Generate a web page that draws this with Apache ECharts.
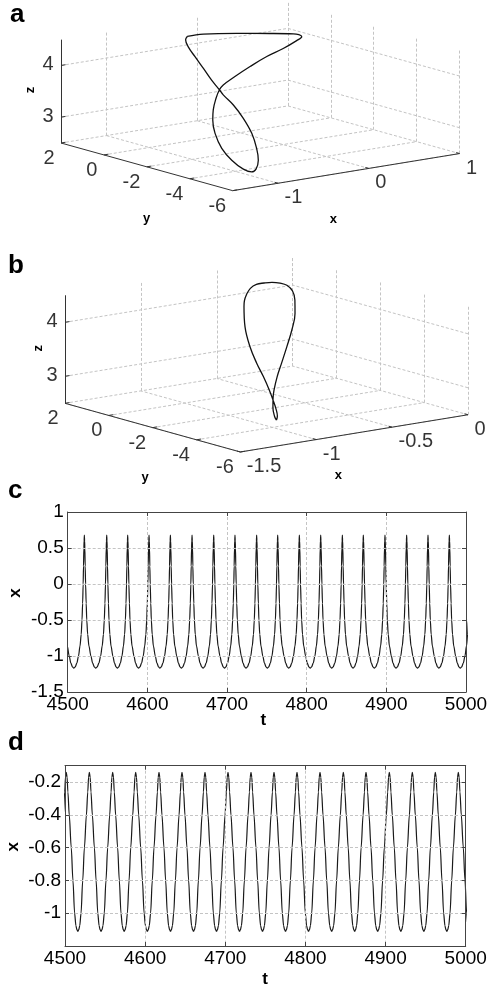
<!DOCTYPE html>
<html>
<head>
<meta charset="utf-8">
<script src="https://cdn.jsdelivr.net/npm/echarts@6/dist/echarts.min.js"></script>
<style>
  html, body { margin: 0; padding: 0; background: #fff; }
  #chart { width: 491px; height: 988px; }
</style>
</head>
<body>
<div id="chart"></div>
<script>
const aX = [-0.30, 0.00, 0.35, 0.58, 0.67, 0.68, 0.60, 0.40, 0.15, -0.10, -0.30, -0.45, -0.55, -0.65, -0.78, -0.88, -0.98, -1.06, -1.12, -1.16, -1.17, -1.16, -1.13, -1.08, -1.02, -0.95, -0.88, -0.80, -0.75, -0.68, -0.60, -0.52, -0.45, -0.38];
const aY = [1.19, 1.71, 1.64, 1.06, 0.35, 0.00, -0.10, -0.32, -0.61, -0.89, -1.03, -1.12, -1.36, -1.63, -2.05, -2.45, -2.98, -3.63, -4.35, -5.06, -5.49, -5.65, -5.63, -5.34, -4.86, -4.17, -3.41, -2.60, -2.21, -1.55, -0.83, -0.10, 0.51, 0.93];
const aZ = [4.31, 4.21, 4.13, 4.13, 4.18, 4.16, 4.12, 4.05, 4.00, 3.91, 3.79, 3.68, 3.64, 3.54, 3.40, 3.28, 3.11, 2.92, 2.79, 2.71, 2.71, 2.78, 2.94, 3.12, 3.34, 3.53, 3.68, 3.76, 3.80, 3.89, 4.01, 4.13, 4.23, 4.30];

// panel b: closed orbit (x, y, z)
const bX = [-1.10, -1.09, -1.06, -1.01, -0.95, -0.85, -0.72, -0.56, -0.38, -0.22, -0.14, -0.17, -0.22, -0.28, -0.35, -0.41, -0.47, -0.53, -0.59, -0.63, -0.65, -0.75, -0.84, -0.92, -0.98, -1.03, -1.07, -1.09, -1.10];
const bY = [-4.88, -4.72, -4.44, -4.10, -3.73, -3.18, -2.48, -1.61, -0.59, 0.37, 0.93, 0.83, 0.74, 0.64, 0.52, 0.47, 0.40, 0.26, 0.02, -0.16, -0.28, -1.02, -1.87, -2.73, -3.45, -4.07, -4.51, -4.79, -4.92];
const bZ = [2.78, 2.83, 2.94, 3.06, 3.14, 3.28, 3.39, 3.52, 3.63, 3.76, 3.91, 4.10, 4.24, 4.32, 4.38, 4.40, 4.41, 4.38, 4.32, 4.24, 4.16, 3.91, 3.68, 3.51, 3.37, 3.21, 3.10, 2.97, 2.86];

// 3D tick values
const aXTicks = [-1, 0, 1];
const bXTicks = [-1.5, -1, -0.5, 0];
const yTicks3d = [2, 0, -2, -4, -6];
const zTicks3d = [3, 4];

// panel c: peak times and the shape of one cycle (time after peak, x)
const cPeaks = [4494.0, 4520.9, 4549.0, 4575.3, 4602.1, 4628.9, 4656.1, 4683.3, 4710.0, 4737.2, 4763.6, 4790.8, 4817.6, 4844.8, 4871.1, 4898.3, 4925.5, 4952.3, 4979.1];
const cCycleT = [0, 0.3, 0.6, 1.0, 1.5, 2.2, 2.9, 4.0, 5.5, 7.9, 10, 12, 13.7, 15.5, 17.5, 19.6, 21.5, 23.0, 24.0, 24.8, 25.45, 25.9, 26.35, 26.65, 26.95];
const cCycleX = [0.68, 0.60, 0.50, 0.25, 0.00, -0.27, -0.50, -0.70, -0.86, -1.00, -1.10, -1.15, -1.17, -1.15, -1.10, -1.00, -0.86, -0.70, -0.50, -0.27, 0.00, 0.25, 0.50, 0.60, 0.68];

// panel d
const dPeaks = [4472.8, 4501.6, 4530.4, 4559.5, 4588.2, 4617.3, 4646.0, 4674.7, 4703.4, 4732.1, 4760.8, 4789.5, 4818.2, 4847.3, 4875.6, 4904.7, 4933.4, 4962.1, 4990.8];
const dCycleT = [0, 1.0, 2.0, 3.7, 6.2, 8.3, 10.4, 12.0, 13.2, 14.4, 15.6, 16.8, 18.4, 20.5, 22.6, 25.1, 26.8, 27.8, 28.78];
const dCycleX = [-0.14, -0.17, -0.26, -0.40, -0.60, -0.80, -1.00, -1.075, -1.10, -1.11, -1.10, -1.075, -1.00, -0.80, -0.60, -0.40, -0.26, -0.17, -0.14];

const fontFam = '"Liberation Sans", Arial, Helvetica, sans-serif';
const gridGray = '#c4c4c4';
const boxColor = '#444';
const deg = Math.PI / 180;
const AZ = -37.5 * deg, EL = 12.3 * deg;

// orthographic view, like matlab's view(az, el)
function makeView(o) {
  return function (x, y, z) {
    const nx = (x - o.x0) / (o.x1 - o.x0);
    const ny = (y - o.y0) / (o.y1 - o.y0) - 1;
    const nz = (z - o.z0) / (o.z1 - o.z0);
    return [
      o.ox + nx * o.sx * Math.cos(AZ) + ny * o.sy * Math.sin(AZ),
      o.oy + nx * o.sx * Math.sin(EL) * Math.sin(AZ) - ny * o.sy * Math.sin(EL) * Math.cos(AZ) - nz * o.sz * Math.cos(EL)
    ];
  };
}

const viewA = { x0: -1.5, x1: 1, y0: -6, y1: 2, z0: 2.5, z1: 4.5, ox: 61, oy: 143, sx: 286, sy: 282, sz: 105.8 };
const viewB = { x0: -1.5, x1: 0, y0: -6, y1: 2, z0: 2.5, z1: 4.5, ox: 65, oy: 403.3, sx: 287, sy: 288, sz: 110.5 };

function seg(p, q) { return { coords: [p, q] }; }

function tickLabels(gi, pts, pos, align) {
  return {
    type: 'scatter', xAxisIndex: gi, yAxisIndex: gi, silent: true,
    symbolSize: 1, itemStyle: { color: 'rgba(0,0,0,0)' },
    data: pts,
    label: {
      show: true, position: pos, align: align, verticalAlign: 'middle',
      formatter: '{b}', fontSize: 20, color: '#000', fontFamily: fontFam
    }
  };
}

function build3d(gi, v, xTicks, X, Y, Z) {
  const P = makeView(v);
  const gridSegs = [], axisSegs = [];
  xTicks.forEach(t => {
    gridSegs.push(seg(P(t, v.y0, v.z0), P(t, v.y1, v.z0)));
    gridSegs.push(seg(P(t, v.y1, v.z0), P(t, v.y1, v.z1)));
  });
  yTicks3d.forEach(t => {
    gridSegs.push(seg(P(v.x0, t, v.z0), P(v.x1, t, v.z0)));
    gridSegs.push(seg(P(v.x1, t, v.z0), P(v.x1, t, v.z1)));
  });
  zTicks3d.forEach(t => {
    gridSegs.push(seg(P(v.x0, v.y1, t), P(v.x1, v.y1, t)));
    gridSegs.push(seg(P(v.x1, v.y0, t), P(v.x1, v.y1, t)));
  });
  axisSegs.push(seg(P(v.x0, v.y1, v.z0), P(v.x0, v.y1, v.z1)));
  axisSegs.push(seg(P(v.x0, v.y0, v.z0), P(v.x0, v.y1, v.z0)));
  axisSegs.push(seg(P(v.x0, v.y0, v.z0), P(v.x1, v.y0, v.z0)));
  const tx = (v.x1 - v.x0) * 0.02, ty = (v.y1 - v.y0) * 0.02;
  xTicks.forEach(t => axisSegs.push(seg(P(t, v.y0, v.z0), P(t, v.y0 + ty, v.z0))));
  yTicks3d.forEach(t => axisSegs.push(seg(P(v.x0, t, v.z0), P(v.x0 + tx, t, v.z0))));
  zTicks3d.forEach(t => axisSegs.push(seg(P(v.x0, v.y1, t), P(v.x0 + tx, v.y1, t))));

  const curve = X.map((x, i) => P(x, Y[i], Z[i]));
  curve.push(curve[0]);

  return [
    { type: 'lines', coordinateSystem: 'cartesian2d', xAxisIndex: gi, yAxisIndex: gi, silent: true,
      data: gridSegs, lineStyle: { color: gridGray, width: 1, type: [3, 2], opacity: 1, curveness: 0 } },
    { type: 'lines', coordinateSystem: 'cartesian2d', xAxisIndex: gi, yAxisIndex: gi, silent: true,
      data: axisSegs, lineStyle: { color: '#333', width: 1, type: 'solid', opacity: 1, curveness: 0 } },
    { type: 'line', xAxisIndex: gi, yAxisIndex: gi, data: curve, smooth: 0.4, showSymbol: false, silent: true,
      lineStyle: { color: '#111', width: 1.3 }, z: 5 },
    tickLabels(gi, xTicks.map(t => ({ name: String(t), value: P(t, v.y0, v.z0) })), [7, 15], 'left'),
    tickLabels(gi, yTicks3d.map(t => ({ name: String(t), value: P(v.x0, t, v.z0) })), [-6, 16], 'right'),
    tickLabels(gi, zTicks3d.map(t => ({ name: String(t), value: P(v.x0, v.y1, t) })), [-7, 0], 'right')
  ];
}

// one cycle shape laid out between consecutive peaks
function tile(peaks, cT, cX) {
  const out = [];
  const L = cT[cT.length - 1];
  peaks.forEach((p, k) => {
    const last = k === peaks.length - 1;
    const s = last ? 1 : (peaks[k + 1] - p) / L;
    for (let i = 0; i < cT.length - (last ? 0 : 1); i++) out.push([p + cT[i] * s, cX[i]]);
  });
  return out;
}

const chart = echarts.init(document.getElementById('chart'));

const hidden = { show: false };
const boxLine = { show: true, onZero: false, lineStyle: { color: boxColor, width: 1 } };
const tickStyle = { inside: true, length: 4, lineStyle: { color: boxColor } };
const split = { show: true, lineStyle: { color: gridGray, type: [3, 2], width: 1 } };
const lab = { color: '#000', fontSize: 19, fontFamily: fontFam };

function tsX(gi, mirror) {
  return {
    gridIndex: gi, type: 'value', min: 4500, max: 5000, interval: 100, z: 5,
    position: mirror ? 'top' : 'bottom',
    axisLine: boxLine, axisTick: tickStyle,
    axisLabel: mirror ? hidden : Object.assign({ margin: 3, formatter: v => String(v) }, lab),
    splitLine: mirror ? hidden : split
  };
}
function tsY(gi, min, max, interval, mirror, fmt) {
  return {
    gridIndex: gi, type: 'value', min: min, max: max, interval: interval, z: 5,
    position: mirror ? 'right' : 'left',
    axisLine: boxLine, axisTick: tickStyle,
    axisLabel: mirror ? hidden : Object.assign({ margin: 4, formatter: fmt }, lab),
    splitLine: mirror ? hidden : split
  };
}

const cFmt = v => String(+v.toFixed(1));
const dFmt = v => (Math.abs(v + 1.2) < 1e-6 || Math.abs(v + 0.1) < 1e-6) ? '' : String(+v.toFixed(1));

function txt(text, x, y, size, rot) {
  return {
    type: 'text', x: x, y: y, rotation: rot || 0, silent: true,
    style: { text: text, fill: '#000', font: 'bold ' + size + 'px ' + fontFam, align: 'center', verticalAlign: 'middle' }
  };
}

const option = {
  animation: false,
  backgroundColor: '#fff',
  grid: [
    { left: 0, top: 0, width: 491, height: 245, outerBoundsMode: 'none' },
    { left: 0, top: 245, width: 491, height: 245, outerBoundsMode: 'none' },
    { left: 67.7, top: 512, width: 398.3, height: 180, outerBoundsMode: 'none' },
    { left: 65, top: 765.7, width: 400.7, height: 180.3, outerBoundsMode: 'none' }
  ],
  xAxis: [
    { gridIndex: 0, type: 'value', min: 0, max: 491, show: false },
    { gridIndex: 1, type: 'value', min: 0, max: 491, show: false },
    tsX(2, false), tsX(3, false), tsX(2, true), tsX(3, true)
  ],
  yAxis: [
    { gridIndex: 0, type: 'value', min: 0, max: 245, inverse: true, show: false },
    { gridIndex: 1, type: 'value', min: 245, max: 490, inverse: true, show: false },
    tsY(2, -1.5, 1, 0.5, false, cFmt), tsY(3, -1.2, -0.1, 0.2, false, dFmt),
    tsY(2, -1.5, 1, 0.5, true), tsY(3, -1.2, -0.1, 0.2, true)
  ],
  series: [].concat(
    build3d(0, viewA, aXTicks, aX, aY, aZ),
    build3d(1, viewB, bXTicks, bX, bY, bZ),
    [
      { type: 'line', xAxisIndex: 2, yAxisIndex: 2, data: tile(cPeaks, cCycleT, cCycleX), showSymbol: false,
        smooth: 0.3, smoothMonotone: 'x', lineStyle: { color: '#1a1a1a', width: 1.2 }, silent: true },
      { type: 'line', xAxisIndex: 3, yAxisIndex: 3, data: tile(dPeaks, dCycleT, dCycleX), showSymbol: false,
        smooth: 0.3, smoothMonotone: 'x', lineStyle: { color: '#1a1a1a', width: 1.2 }, silent: true }
    ]
  ),
  graphic: [
    { type: 'text', x: 10, y: 15, silent: true, style: { text: 'a', fill: '#000', font: 'bold 26px ' + fontFam, verticalAlign: 'middle' } },
    { type: 'text', x: 8, y: 266, silent: true, style: { text: 'b', fill: '#000', font: 'bold 26px ' + fontFam, verticalAlign: 'middle' } },
    { type: 'text', x: 8, y: 491, silent: true, style: { text: 'c', fill: '#000', font: 'bold 26px ' + fontFam, verticalAlign: 'middle' } },
    { type: 'text', x: 8, y: 743, silent: true, style: { text: 'd', fill: '#000', font: 'bold 26px ' + fontFam, verticalAlign: 'middle' } },
    txt('y', 146.7, 218, 13), txt('x', 333.3, 219, 13), txt('z', 30, 90, 13, Math.PI / 2),
    txt('y', 145, 477, 13), txt('x', 338.3, 475, 13), txt('z', 38.3, 348.3, 13, Math.PI / 2),
    txt('x', 15, 593, 17, Math.PI / 2), txt('t', 263.3, 720, 17),
    txt('x', 13.3, 846.7, 17, Math.PI / 2), txt('t', 265, 979, 17)
  ]
};

chart.setOption(option);
window.onresize = chart.resize;
</script>
</body>
</html>
